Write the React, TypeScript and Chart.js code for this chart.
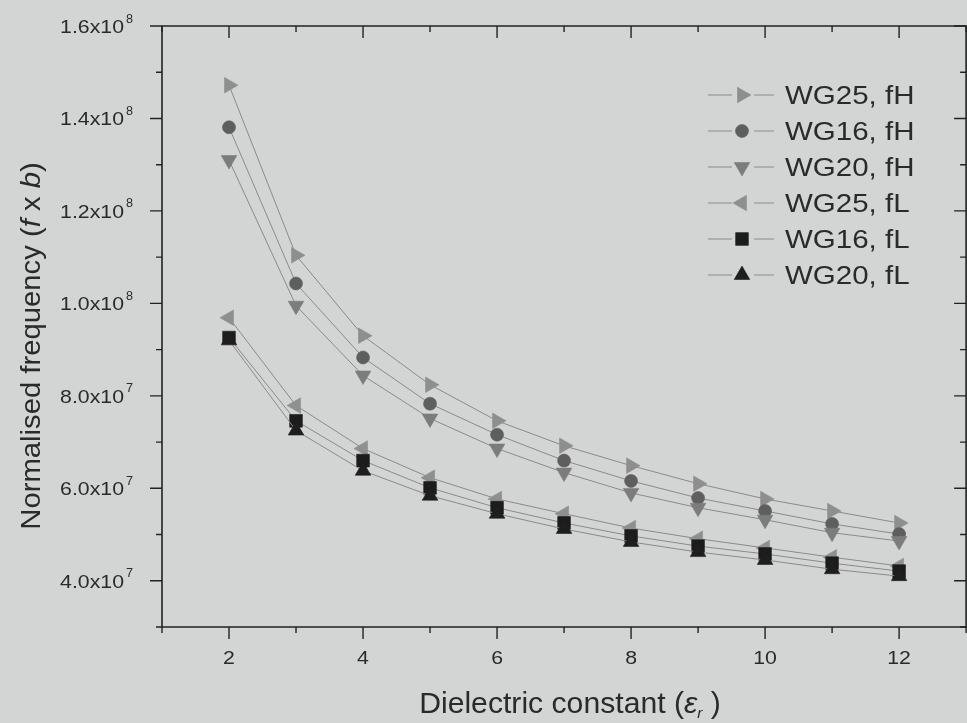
import React, { useEffect, useRef } from 'react';
import { Chart, registerables } from 'chart.js';
import { drawPoint } from 'chart.js/helpers';

Chart.register(...registerables);

// ---------- data ----------
const epsilon = [2, 3, 4, 5, 6, 7, 8, 9, 10, 11, 12];
const wg25fH = [1.472e8, 1.104e8, 9.30e7, 8.24e7, 7.46e7, 6.92e7, 6.49e7, 6.10e7, 5.77e7, 5.51e7, 5.25e7];
const wg16fH = [1.381e8, 1.043e8, 8.83e7, 7.83e7, 7.16e7, 6.60e7, 6.16e7, 5.79e7, 5.51e7, 5.23e7, 5.01e7];
const wg20fH = [1.310e8, 9.95e7, 8.44e7, 7.51e7, 6.86e7, 6.34e7, 5.90e7, 5.58e7, 5.32e7, 5.04e7, 4.86e7];
const wg25fL = [9.69e7, 7.79e7, 6.86e7, 6.23e7, 5.77e7, 5.45e7, 5.14e7, 4.91e7, 4.71e7, 4.51e7, 4.32e7];
const wg16fL = [9.26e7, 7.46e7, 6.60e7, 6.01e7, 5.58e7, 5.25e7, 4.97e7, 4.75e7, 4.58e7, 4.38e7, 4.21e7];
const wg20fL = [9.20e7, 7.25e7, 6.38e7, 5.84e7, 5.45e7, 5.12e7, 4.84e7, 4.62e7, 4.45e7, 4.25e7, 4.10e7];

const seriesNames = ['WG25, fH', 'WG16, fH', 'WG20, fH', 'WG25, fL', 'WG16, fL', 'WG20, fL'];
const seriesValues = [wg25fH, wg16fH, wg20fH, wg25fL, wg16fL, wg20fL];

const xMajorTicks = [2, 4, 6, 8, 10, 12];
const xMinorTicks = [1, 3, 5, 7, 9, 11, 13];
const xTickLabels = ['2', '4', '6', '8', '10', '12'];
const yMajorTicks = [4e7, 6e7, 8e7, 1.0e8, 1.2e8, 1.4e8, 1.6e8];
const yMinorTicks = [3e7, 5e7, 7e7, 9e7, 1.1e8, 1.3e8, 1.5e8];
const yTickMantissas = ['4.0x10', '6.0x10', '8.0x10', '1.0x10', '1.2x10', '1.4x10', '1.6x10'];
const yTickExponents = ['7', '7', '7', '8', '8', '8', '8'];

// ---------- styles ----------
const BG = '#d3d5d4';
const INK = '#222222';
const LINE = '#8a8a8a';
const FONT = '"Liberation Sans", Arial, sans-serif';
const markerStyles = [
  { pointStyle: 'triangle', rotation: 90, color: '#8e8e8e' },
  { pointStyle: 'circle', rotation: 0, color: '#5e5e5e' },
  { pointStyle: 'triangle', rotation: 180, color: '#7c7c7c' },
  { pointStyle: 'triangle', rotation: 270, color: '#8f8f8f' },
  { pointStyle: 'rect', rotation: 0, color: '#1c1c1c' },
  { pointStyle: 'triangle', rotation: 0, color: '#1e1e1e' },
];
const markerRadius = [9, 6.5, 9, 9, 9, 9];

type Part = { t: string; italic?: boolean; size?: number; dy?: number };

function richText(ctx: CanvasRenderingContext2D, parts: Part[], x: number, y: number, size: number, sx: number, align: 'left' | 'center' | 'right') {
  const widths = parts.map((p) => {
    ctx.font = `${p.italic ? 'italic ' : ''}${p.size ?? size}px ${FONT}`;
    return ctx.measureText(p.t).width;
  });
  const total = widths.reduce((a, b) => a + b, 0) * sx;
  let x0 = x;
  if (align === 'center') x0 = x - total / 2;
  else if (align === 'right') x0 = x - total;
  ctx.save();
  ctx.translate(x0, y);
  ctx.scale(sx, 1);
  ctx.textAlign = 'left';
  ctx.textBaseline = 'alphabetic';
  let cx = 0;
  parts.forEach((p, i) => {
    ctx.font = `${p.italic ? 'italic ' : ''}${p.size ?? size}px ${FONT}`;
    ctx.fillText(p.t, cx, p.dy ?? 0);
    cx += widths[i];
  });
  ctx.restore();
  return total;
}

const originPlugin = {
  id: 'originFrame',
  beforeDraw(chart: any) {
    const ctx = chart.ctx as CanvasRenderingContext2D;
    ctx.save();
    ctx.fillStyle = BG;
    ctx.fillRect(0, 0, chart.width, chart.height);
    ctx.restore();
  },
  afterDatasetsDraw(chart: any) {
    const ctx = chart.ctx as CanvasRenderingContext2D;
    const xs = chart.scales.x;
    const ys = chart.scales.y;
    const left = xs.getPixelForValue(1);
    const right = xs.getPixelForValue(13);
    const top = ys.getPixelForValue(1.6e8);
    const bottom = ys.getPixelForValue(3e7);
    const MAJ = 12;
    const MIN = 6;

    ctx.save();
    ctx.strokeStyle = INK;
    ctx.lineWidth = 1.6;
    ctx.lineCap = 'butt';
    ctx.beginPath();
    ctx.rect(left, top, right - left, bottom - top);
    ctx.stroke();

    ctx.lineWidth = 1.4;
    ctx.beginPath();
    xMajorTicks.forEach((v) => {
      const px = xs.getPixelForValue(v);
      ctx.moveTo(px, bottom); ctx.lineTo(px, bottom + MAJ);
      ctx.moveTo(px, top); ctx.lineTo(px, top + MAJ);
    });
    xMinorTicks.forEach((v) => {
      const px = xs.getPixelForValue(v);
      ctx.moveTo(px, bottom); ctx.lineTo(px, bottom + MIN);
      ctx.moveTo(px, top); ctx.lineTo(px, top + MIN);
    });
    yMajorTicks.forEach((v) => {
      const py = ys.getPixelForValue(v);
      ctx.moveTo(left, py); ctx.lineTo(left - MAJ, py);
      ctx.moveTo(right, py); ctx.lineTo(right - MAJ, py);
    });
    yMinorTicks.forEach((v) => {
      const py = ys.getPixelForValue(v);
      ctx.moveTo(left, py); ctx.lineTo(left - MIN, py);
      ctx.moveTo(right, py); ctx.lineTo(right - MIN, py);
    });
    ctx.stroke();

    // tick labels
    ctx.fillStyle = '#2a2a2a';
    yMajorTicks.forEach((v, i) => {
      const py = ys.getPixelForValue(v);
      const w = richText(ctx, [{ t: yTickMantissas[i] }], left - 38, py + 7, 19, 1.12, 'right');
      richText(ctx, [{ t: yTickExponents[i] }], left - 36, py - 3.5, 12, 1.05, 'left');
    });
    xMajorTicks.forEach((v, i) => {
      const px = xs.getPixelForValue(v);
      richText(ctx, [{ t: xTickLabels[i] }], px, bottom + 37, 19, 1.12, 'center');
    });

    // axis titles
    richText(
      ctx,
      [{ t: 'Dielectric constant (' }, { t: 'ε', italic: true }, { t: 'r', italic: true, size: 15, dy: 5 }, { t: ' )' }],
      570, 713, 29, 1.04, 'center'
    );
    ctx.save();
    ctx.translate(40, 346);
    ctx.rotate(-Math.PI / 2);
    richText(
      ctx,
      [{ t: 'Normalised frequency (' }, { t: 'f', italic: true }, { t: ' x ' }, { t: 'b', italic: true }, { t: ')' }],
      0, 0, 28, 1.045, 'center'
    );
    ctx.restore();

    // legend
    seriesNames.forEach((name, i) => {
      const cy = 95 + i * 36;
      const mx = 742;
      ctx.strokeStyle = LINE;
      ctx.lineWidth = 1;
      ctx.beginPath();
      ctx.moveTo(708, cy); ctx.lineTo(732, cy);
      ctx.moveTo(754, cy); ctx.lineTo(774, cy);
      ctx.stroke();
      const st = markerStyles[i];
      ctx.fillStyle = st.color;
      ctx.strokeStyle = st.color;
      ctx.lineWidth = 0.6;
      drawPoint(ctx, { pointStyle: st.pointStyle as any, radius: markerRadius[i], rotation: st.rotation, borderWidth: 0.6 } as any, mx, cy);
      ctx.fillStyle = '#2a2a2a';
      richText(ctx, [{ t: name }], 785, cy + 9, 25, 1.18, 'left');
    });
    ctx.restore();
  },
};

export default function App() {
  const canvasRef = useRef<HTMLCanvasElement | null>(null);

  useEffect(() => {
    const canvas = canvasRef.current;
    if (!canvas) return;
    const datasets = seriesNames.map((name, i) => ({
      label: name,
      data: epsilon.map((e, j) => ({ x: e, y: seriesValues[i][j] })),
      borderColor: LINE,
      borderWidth: 1,
      backgroundColor: markerStyles[i].color,
      pointStyle: markerStyles[i].pointStyle as any,
      pointRotation: markerStyles[i].rotation,
      pointRadius: markerRadius[i],
      pointBackgroundColor: markerStyles[i].color,
      pointBorderColor: markerStyles[i].color,
      pointBorderWidth: 0.6,
      tension: 0,
      fill: false,
      order: seriesNames.length - 1 - i,
    }));
    const chart = new Chart(canvas, {
      type: 'line',
      data: { datasets },
      options: {
        responsive: false,
        animation: false,
        devicePixelRatio: 1,
        layout: { padding: { left: 162, top: 26, right: 0, bottom: 96 } },
        plugins: { legend: { display: false }, tooltip: { enabled: false } },
        scales: {
          x: { type: 'linear', min: 1, max: 12.87, display: false },
          y: { type: 'linear', min: 3e7, max: 1.6e8, display: false },
        },
      },
      plugins: [originPlugin],
    });
    return () => chart.destroy();
  }, []);

  return (
    <div style={{ position: 'fixed', left: 0, top: 0, width: 967, height: 723, overflow: 'hidden', background: BG }}>
      <canvas ref={canvasRef} width={967} height={723} style={{ display: 'block', width: 967, height: 723 }} />
    </div>
  );
}
